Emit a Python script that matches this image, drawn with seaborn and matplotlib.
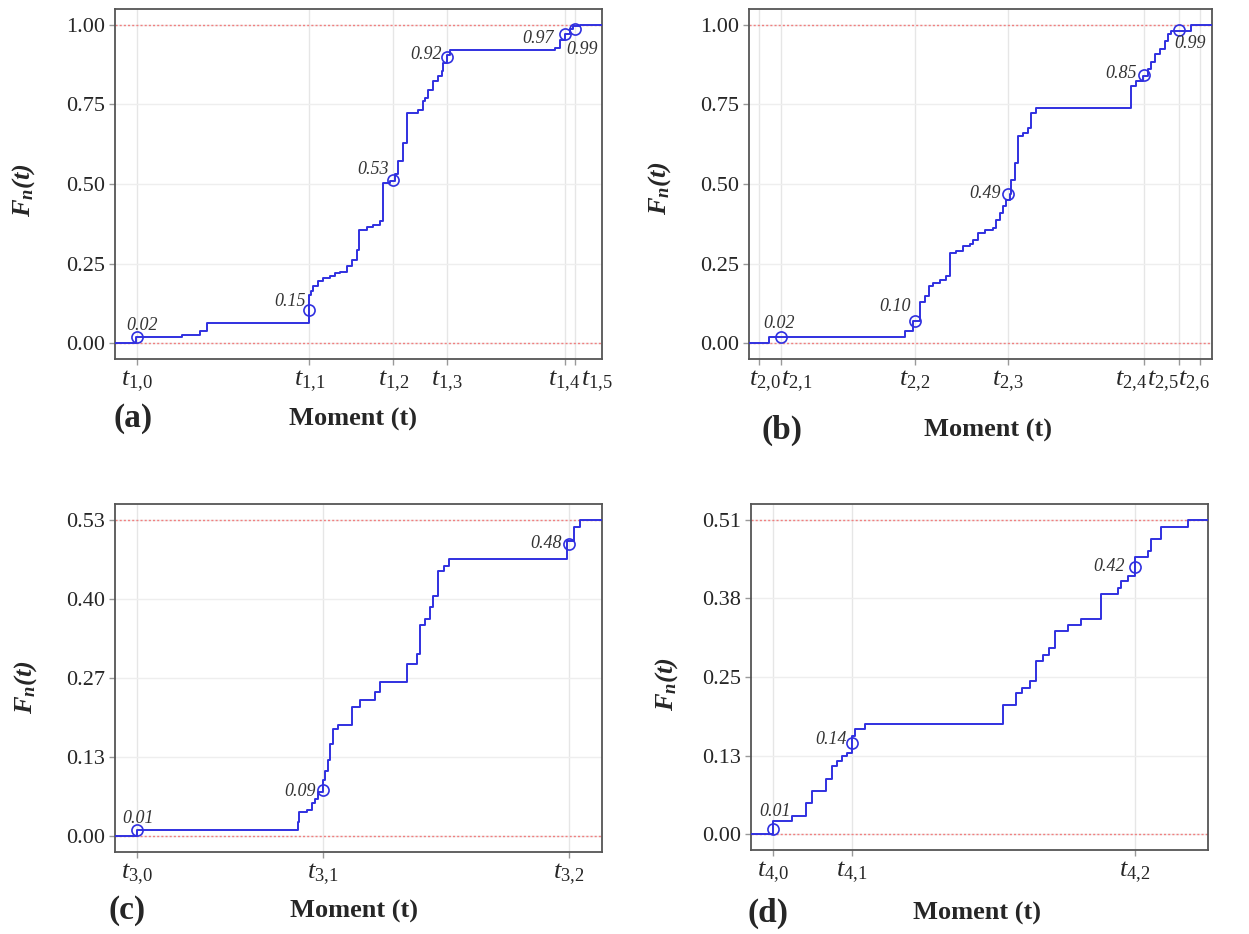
import numpy as np
import pandas as pd
import matplotlib
matplotlib.use("Agg")
import matplotlib.pyplot as plt
import matplotlib.transforms as mtrans
import seaborn as sns

# ---------------- data ----------------
# panel (a)
a_x = [0, 21, 66.7, 85, 91.7, 194.3, 196, 198.3, 203.3, 208.3, 215, 220, 225, 231.7, 236.7,
       241.7, 244.3, 251.7, 258.3, 265, 268.3, 275, 280, 283.3, 288.3, 291.7, 303.3, 308.3,
       310, 313.3, 318.3, 323.3, 326.7, 328.3, 331.7, 335, 440, 445, 450, 455, 458.3, 465, 487]
a_F = [0, 0.019, 0.027, 0.038, 0.062, 0.15, 0.165, 0.178, 0.194, 0.204, 0.21, 0.22, 0.225,
       0.241, 0.262, 0.294, 0.357, 0.364, 0.372, 0.383, 0.503, 0.508, 0.53, 0.571, 0.629,
       0.723, 0.734, 0.76, 0.77, 0.797, 0.823, 0.839, 0.854, 0.88, 0.907, 0.92, 0.928, 0.954,
       0.97, 0.986, 0.996, 1.0, 1.0]
a_ticks = [22, 194.3, 278.3, 331.7, 450, 460]
a_ticklabels = ["1{,}0", "1{,}1", "1{,}2", "1{,}3", "1{,}4", "1{,}5"]
a_yticks = [0.0, 0.25, 0.5, 0.75, 1.0]
a_yticklabels = ["0.00", "0.25", "0.50", "0.75", "1.00"]
a_cx = [22, 194.3, 278.3, 331.7, 450, 460]
a_cy = [0.019, 0.104, 0.512, 0.90, 0.97, 0.986]
a_labels = ["0.02", "0.15", "0.53", "0.92", "0.97", "0.99"]
a_fmax = 1.0
a_xmax = 487

# panel (b)
b_x = [0, 20, 155.7, 164, 170.7, 176, 180, 184, 190.7, 197.4, 200.7, 207.4, 214, 220.7, 224,
       229, 235.7, 244, 247.4, 250.7, 254, 257.4, 260.7, 262.4, 265.7, 269, 274, 279, 282.4,
       287.4, 382.4, 387.4, 394, 399, 402.4, 405.7, 410.7, 415.7, 419, 422.4, 442.4, 463]
b_F = [0, 0.018, 0.039, 0.068, 0.129, 0.147, 0.178, 0.189, 0.199, 0.21, 0.283, 0.29, 0.304,
       0.31, 0.325, 0.346, 0.356, 0.362, 0.388, 0.409, 0.43, 0.451, 0.47, 0.514, 0.566, 0.65,
       0.661, 0.677, 0.724, 0.738, 0.807, 0.823, 0.839, 0.862, 0.883, 0.909, 0.925, 0.951,
       0.972, 0.98, 1.0, 1.0]
b_ticks = [10, 32.4, 165.7, 259, 394.7, 429.7, 450.7]
b_ticklabels = ["2{,}0", "2{,}1", "2{,}2", "2{,}3", "2{,}4", "2{,}5", "2{,}6"]
b_yticks = [0.0, 0.25, 0.5, 0.75, 1.0]
b_yticklabels = ["0.00", "0.25", "0.50", "0.75", "1.00"]
b_cx = [32.4, 165.7, 259, 394.7, 429.7]
b_cy = [0.02, 0.07, 0.469, 0.842, 0.983]
b_labels = ["0.02", "0.10", "0.49", "0.85", "0.99"]
b_fmax = 1.0
b_xmax = 463

# panel (c)
c_x = [0, 21.7, 183.3, 184.3, 191.7, 196.7, 200, 203.3, 208, 210, 213.3, 215, 218.3, 223.3,
       236.7, 245, 260, 265, 291.7, 301.7, 305, 310, 315, 318.3, 323.3, 328.3, 333.3, 451.7,
       458.3, 465, 486.7]
c_F = [0, 0.01, 0.024, 0.041, 0.044, 0.055, 0.063, 0.074, 0.094, 0.11, 0.127, 0.155, 0.18,
       0.186, 0.216, 0.228, 0.242, 0.258, 0.289, 0.306, 0.353, 0.364, 0.384, 0.403, 0.445,
       0.453, 0.465, 0.495, 0.518, 0.53, 0.53]
c_ticks = [21.7, 207.7, 453.3]
c_ticklabels = ["3{,}0", "3{,}1", "3{,}2"]
c_yticks = [0.0, 0.1325, 0.265, 0.3975, 0.53]
c_yticklabels = ["0.00", "0.13", "0.27", "0.40", "0.53"]
c_cx = [21.7, 207.7, 453.3]
c_cy = [0.01, 0.077, 0.49]
c_labels = ["0.01", "0.09", "0.48"]
c_fmax = 0.53
c_xmax = 486.7

# panel (d)
d_x = [0, 21.7, 40.7, 55, 60.7, 75, 80.7, 85.7, 90.7, 95.7, 100.7, 104, 114, 251.7, 265,
       270.7, 279, 285, 292.3, 298.3, 304, 317.3, 330.7, 350.7, 367.3, 370.7, 377.3, 384,
       397.3, 400.7, 410.7, 437.3, 457.3]
d_F = [0, 0.0216, 0.03, 0.051, 0.07, 0.089, 0.11, 0.119, 0.127, 0.132, 0.159, 0.17, 0.179,
       0.209, 0.229, 0.2375, 0.248, 0.281, 0.291, 0.302, 0.329, 0.34, 0.349, 0.39, 0.40,
       0.41, 0.418, 0.45, 0.459, 0.479, 0.499, 0.51, 0.51]
d_ticks = [21.7, 100.7, 384]
d_ticklabels = ["4{,}0", "4{,}1", "4{,}2"]
d_yticks = [0.0, 0.1275, 0.255, 0.3825, 0.51]
d_yticklabels = ["0.00", "0.13", "0.25", "0.38", "0.51"]
d_cx = [21.7, 100.7, 384]
d_cy = [0.008, 0.148, 0.434]
d_labels = ["0.01", "0.14", "0.42"]
d_fmax = 0.51
d_xmax = 457.3

# ---------------- style ----------------
sns.set_theme(style="white")
plt.rcParams["font.family"] = ["Liberation Serif", "DejaVu Serif"]
plt.rcParams["mathtext.fontset"] = "custom"
plt.rcParams["mathtext.rm"] = "Liberation Serif"
plt.rcParams["mathtext.it"] = "Liberation Serif:italic"
plt.rcParams["mathtext.bf"] = "Liberation Serif:bold:italic"

W, H = 1249, 934
fig = plt.figure(figsize=(W / 100, H / 100), dpi=100)
fig.patch.set_facecolor("white")

def px_axes(l, t, r, b):
    return fig.add_axes([l / W, 1 - b / H, (r - l) / W, (b - t) / H])

LINE = "#3030e0"

def panel(ax, xs, Fs, fmax, xmax, ticks, ticklabels, yticks, yticklabels,
          cx, cy, labels, offsets, tick_shift=None):
    for v in ticks:
        ax.axvline(v, color="#e6e6e6", lw=1, zorder=0)
    for v in yticks:
        ax.axhline(v, color="#eeeeee", lw=1, zorder=0)
    ax.axhline(0, color="#f08080", ls=(0, (1.5, 1.5)), lw=1, zorder=1)
    ax.axhline(fmax, color="#f08080", ls=(0, (1.5, 1.5)), lw=1, zorder=1)
    df = pd.DataFrame({"t": xs, "F": Fs})
    sns.lineplot(data=df, x="t", y="F", drawstyle="steps-post", color=LINE, lw=1.4,
                 ax=ax, zorder=3, estimator=None)
    ax.plot(cx, cy, ls="none", marker="o", ms=8, mfc="none", mec=LINE, mew=1.2, zorder=4)
    for x, y, lab, (dx, dy, ha) in zip(cx, cy, labels, offsets):
        ax.annotate(lab, (x, y), xytext=(dx, dy), textcoords="offset pixels",
                    ha=ha, va="center", fontsize=13, style="italic", color="#333333",
                    zorder=5)
    ax.set_xlim(0, xmax)
    pad = 0.05 * fmax
    ax.set_ylim(-pad, fmax + pad)
    ax.set_xticks(ticks)
    ax.set_xticklabels([r"$t_{\mathrm{%s}}$" % s for s in ticklabels], fontsize=19)
    ax.set_yticks(yticks)
    ax.set_yticklabels(yticklabels, fontsize=16)
    ax.tick_params(axis="both", length=4, width=1, color="#999999", pad=3, bottom=True, left=True)
    if tick_shift is not None:
        for lab, dx in zip(ax.get_xticklabels(), tick_shift):
            lab.set_transform(lab.get_transform() +
                              mtrans.ScaledTranslation(dx / 100, 0, fig.dpi_scale_trans))
    ax.set_xlabel("")
    ax.set_ylabel("")
    for s in ax.spines.values():
        s.set_color("#555555")
        s.set_linewidth(1.3)
    ax.grid(False)

axA = px_axes(115, 9, 602, 359)
panel(axA, a_x, a_F, a_fmax, a_xmax, a_ticks, a_ticklabels, a_yticks, a_yticklabels,
      a_cx, a_cy, a_labels,
      [(5, 12, "center"), (-4, 9, "right"), (-5, 11, "right"), (-5, 2, "right"),
       (-11, -4, "right"), (-9, -20, "left")],
      tick_shift=[0, 0, 0, 0, -1, 22])

axB = px_axes(749, 9, 1212, 359)
panel(axB, b_x, b_F, b_fmax, b_xmax, b_ticks, b_ticklabels, b_yticks, b_yticklabels,
      b_cx, b_cy, b_labels,
      [(-2, 13, "center"), (-4, 14, "right"), (-7, 0, "right"), (-7, 2, "right"),
       (-4, -13, "left")],
      tick_shift=[6, 15, 0, 0, -13, -16, -6])

axC = px_axes(115, 504, 602, 852)
panel(axC, c_x, c_F, c_fmax, c_xmax, c_ticks, c_ticklabels, c_yticks, c_yticklabels,
      c_cx, c_cy, c_labels,
      [(1, 12, "center"), (-7, -1, "right"), (-7, 0, "right")])

axD = px_axes(751, 504, 1208, 850)
panel(axD, d_x, d_F, d_fmax, d_xmax, d_ticks, d_ticklabels, d_yticks, d_yticklabels,
      d_cx, d_cy, d_labels,
      [(2, 18, "center"), (-5, 3, "right"), (-10, 0, "right")])

# axis titles and panel letters
def ftext(x, y, s, **kw):
    fig.text(x / W, 1 - y / H, s, ha="center", va="center", **kw)

for (lx, ly, mx, my, yx, yy, letter) in [(133, 419, 353, 419, 24, 190, "(a)"),
                                          (782, 430, 988, 430, 660, 188, "(b)"),
                                          (127, 910, 354, 911, 26, 687, "(c)"),
                                          (768, 913, 977, 913, 667, 684, "(d)")]:
    ftext(lx, ly, letter, fontsize=24, fontweight="bold")
    ftext(mx, my, "Moment (t)", fontsize=19, fontweight="bold")
    ftext(yx, yy, r"$\mathbf{F_n(t)}$", fontsize=19, rotation=90)

fig.savefig("out.png", dpi=100, facecolor="white")
